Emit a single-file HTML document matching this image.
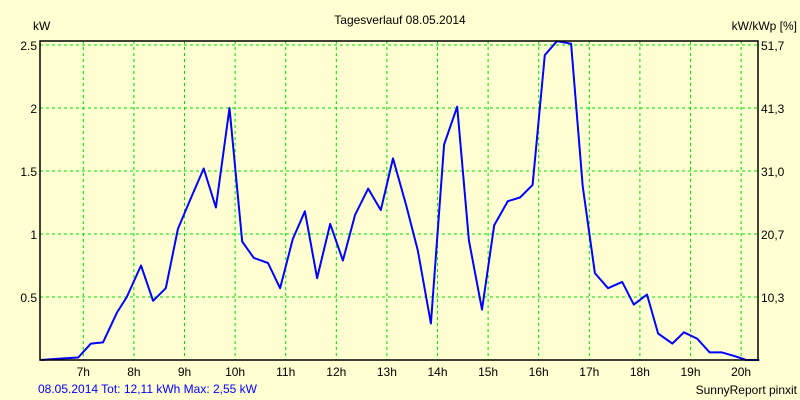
<!DOCTYPE html>
<html><head><meta charset="utf-8"><style>
body{margin:0;background:#ffffd2;}
svg{display:block;font-family:"Liberation Sans",sans-serif;font-size:12px;}
</style></head><body>
<svg id="chart" width="800" height="400">
<rect x="0" y="0" width="800" height="400" fill="#ffffd2"/>
<text x="400" y="24" text-anchor="middle">Tagesverlauf 08.05.2014</text>
<text x="33" y="30">kW</text>
<text x="797" y="30" text-anchor="end">kW/kWp [%]</text>
<g id="grid"></g>
<g id="ticks"></g>
<polyline id="line" fill="none" stroke="#0000ff" stroke-width="2" stroke-linejoin="round"/>
<rect x="40" y="41" width="718" height="319" fill="none" stroke="#000" stroke-width="1.5"/>
<text x="38" y="393" fill="#0000ff">08.05.2014 Tot: 12,11 kWh Max: 2,55 kW</text>
<text x="797" y="394" text-anchor="end">SunnyReport pinxit</text>
</svg>
<script>
const hours=[6.16,6.50,6.90,7.15,7.39,7.67,7.86,8.14,8.38,8.63,8.87,9.11,9.38,9.62,9.89,10.14,10.37,10.65,10.89,11.14,11.38,11.62,11.88,12.13,12.37,12.63,12.88,13.12,13.38,13.61,13.87,14.13,14.39,14.62,14.88,15.12,15.39,15.63,15.88,16.12,16.36,16.64,16.87,17.11,17.37,17.65,17.88,18.14,18.36,18.64,18.87,19.13,19.38,19.62,19.88,20.1,20.36];
const power=[0,0.01,0.02,0.13,0.14,0.38,0.5,0.75,0.47,0.57,1.04,1.27,1.52,1.21,2.0,0.94,0.81,0.77,0.57,0.96,1.18,0.65,1.08,0.79,1.15,1.36,1.19,1.6,1.23,0.87,0.29,1.71,2.01,0.95,0.40,1.07,1.26,1.29,1.39,2.42,2.53,2.51,1.38,0.69,0.57,0.62,0.44,0.52,0.21,0.13,0.22,0.17,0.06,0.06,0.03,0,0];
const hourTicks=[7,8,9,10,11,12,13,14,15,16,17,18,19,20];
const kwTicks=[0.5,1,1.5,2,2.5];
const kwLabels=["0.5","1","1.5","2","2.5"];
const pctLabels=["10,3","20,7","31,0","41,3","51,7"];
const X=h=>32.7+(h-6)*50.6;
const Y=v=>360-v*126;
const NS="http://www.w3.org/2000/svg";
const grid=document.getElementById('grid'),ticks=document.getElementById('ticks');
function mk(tag,attrs,parent){const e=document.createElementNS(NS,tag);for(const k in attrs)e.setAttribute(k,attrs[k]);parent.appendChild(e);return e;}
hourTicks.forEach(h=>{
 const l=mk('line',{x1:X(h),x2:X(h),y1:41,y2:360,stroke:'#00dd00','stroke-dasharray':'3,3'},grid);
 
 
 const t=mk('text',{x:X(h),y:376,'text-anchor':'middle'},ticks);t.textContent=h+'h';
 
 
});
kwTicks.forEach((v,i)=>{
 const l=mk('line',{x1:40,x2:758,y1:Y(v),y2:Y(v),stroke:'#00dd00','stroke-dasharray':'3,3'},grid);
 
 
 const t=mk('text',{x:37,y:Y(v)+5,'text-anchor':'end'},ticks);t.textContent=kwLabels[i];
 
 
 const r=mk('text',{x:761,y:Y(v)+5},ticks);r.textContent=pctLabels[i];
 
 
});
document.getElementById('line').setAttribute('points',hours.map((h,i)=>X(h).toFixed(1)+','+Y(power[i]).toFixed(1)).join(' '));
</script>
</body></html>
